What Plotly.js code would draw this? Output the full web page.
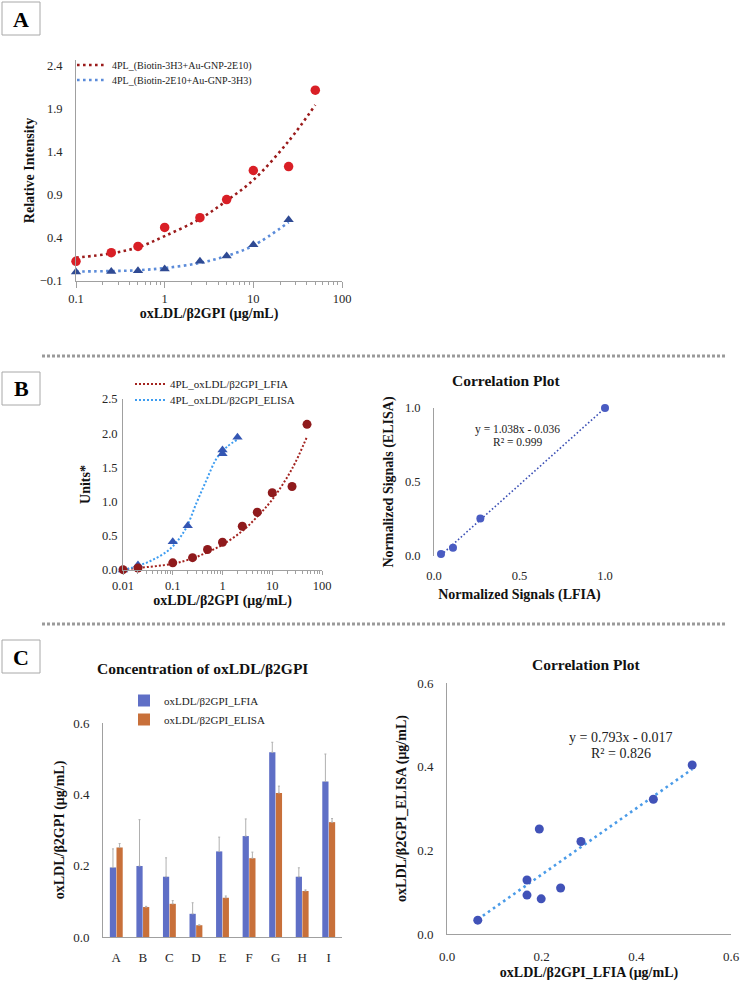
<!DOCTYPE html>
<html>
<head>
<meta charset="utf-8">
<script src="https://cdn.plot.ly/plotly-3.0.1.min.js"></script>
<style>html,body{margin:0;padding:0;background:#fff}#chart{width:740px;height:981px}</style>
</head>
<body>
<div id="chart"></div>
<script>
// ---------- Panel A data ----------
const aConcRed = [0.1, 0.25, 0.5, 1, 2.5, 5, 10, 25, 50];
const aRed = [0.128, 0.228, 0.30, 0.52, 0.634, 0.843, 1.18, 1.225, 2.11];
const aRedFit = [0.17, 0.22, 0.29, 0.42, 0.62, 0.83, 1.07, 1.52, 1.94];
const aConcBlue = [0.1, 0.25, 0.5, 1, 2.5, 5, 10, 25];
const aBlue = [0.005, 0.01, 0.02, 0.04, 0.13, 0.19, 0.32, 0.61];
const aBlueFit = [0.01, 0.015, 0.025, 0.05, 0.11, 0.19, 0.31, 0.58];
const aYTicks = [-0.1, 0.4, 0.9, 1.4, 1.9, 2.4];
const aMinorTicks = [0.2, 0.3, 0.4, 0.5, 0.6, 0.7, 0.8, 0.9, 2, 3, 4, 5, 6, 7, 8, 9, 20, 30, 40, 50, 60, 70, 80, 90];

// ---------- Panel B data ----------
const bConcLFIA = [0.01, 0.02, 0.1, 0.25, 0.5, 1, 2.5, 5, 10, 25, 50];
const bLFIA = [0.005, 0.03, 0.105, 0.18, 0.30, 0.405, 0.64, 0.845, 1.13, 1.22, 2.13];
const bLFIAFit = [0.01, 0.03, 0.09, 0.17, 0.26, 0.37, 0.57, 0.78, 1.03, 1.48, 1.95];
const bConcELISA = [0.01, 0.02, 0.1, 0.2, 1, 1, 2];
const bELISA = [0.0, 0.073, 0.414, 0.648, 1.755, 1.70, 1.94];
const bELISAFitX = [0.01, 0.022, 0.04, 0.076, 0.12, 0.19, 0.3, 0.48, 0.76, 1.22, 1.93];
const bELISAFitY = [0.0, 0.07, 0.15, 0.27, 0.41, 0.63, 0.98, 1.32, 1.63, 1.80, 1.90];
const bMinorTicks = [0.02, 0.03, 0.04, 0.05, 0.06, 0.07, 0.08, 0.09].concat(aMinorTicks);
const normLFIA = [0.041, 0.111, 0.271, 1.0];
const normELISA = [0.014, 0.056, 0.253, 1.0];
const normTrendX = [0.041, 1.0];
const normTrendY = [0.006, 1.0];

// ---------- Panel C data ----------
const samples = ['A', 'B', 'C', 'D', 'E', 'F', 'G', 'H', 'I'];
const cLFIA = [0.195, 0.199, 0.169, 0.065, 0.240, 0.283, 0.518, 0.169, 0.436];
const cLFIAErr = [0.052, 0.130, 0.053, 0.031, 0.040, 0.048, 0.028, 0.025, 0.077];
const cELISA = [0.251, 0.084, 0.093, 0.033, 0.110, 0.221, 0.404, 0.129, 0.322];
const cELISAErr = [0.011, 0.002, 0.009, 0.001, 0.005, 0.017, 0.019, 0.003, 0.010];
const noErr = [0, 0, 0, 0, 0, 0, 0, 0, 0];
const cTrendX = [0.065, 0.518];
const cTrendY = [0.035, 0.394];

// ---------- layout helpers ----------
const W = 740, H = 981;
const fx = p => p / W;
const fy = p => 1 - p / H;
const SERIF = '"Liberation Serif", serif';
const AX = '#a0a0a0';
const tickFont = s => ({family: SERIF, size: s, color: '#262626'});
const titleFont = s => ({family: SERIF, size: s, color: '#111', weight: 'bold'});
const note = (text, x, y, font) => ({text: text, xref: 'paper', yref: 'paper', x: fx(x), y: fy(y),
  xanchor: 'center', yanchor: 'middle', showarrow: false, font: font});
const oneLegend = (x, y, size) => ({x: fx(x), y: fy(y), xanchor: 'left', yanchor: 'middle', bgcolor: 'rgba(0,0,0,0)',
  font: {family: SERIF, size: size, color: '#222'}, itemwidth: 30});

const traces = [
  // Panel A
  {x: aConcRed, y: aRedFit, xaxis: 'x', yaxis: 'y', mode: 'lines', line: {color: '#9b1b1b', width: 2.6, dash: '2.6px,3.4px', shape: 'spline'}, name: '4PL_(Biotin-3H3+Au-GNP-2E10)', legend: 'legend'},
  {x: aConcBlue, y: aBlueFit, xaxis: 'x', yaxis: 'y', mode: 'lines', line: {color: '#5b8bd9', width: 2.6, dash: '2.6px,3.4px', shape: 'spline'}, name: '4PL_(Biotin-2E10+Au-GNP-3H3)', legend: 'legend4'},
  {x: aConcRed, y: aRed, xaxis: 'x', yaxis: 'y', mode: 'markers', marker: {color: '#d91f26', size: 9.5}, showlegend: false, cliponaxis: false},
  {x: aConcBlue, y: aBlue, xaxis: 'x', yaxis: 'y', mode: 'markers', marker: {color: '#2f4a93', size: 9, symbol: 'triangle-up'}, showlegend: false, cliponaxis: false},
  // Panel B left
  {x: bConcLFIA, y: bLFIAFit, xaxis: 'x2', yaxis: 'y2', mode: 'lines', line: {color: '#a3231f', width: 2, dash: '2px,2px', shape: 'spline'}, name: '4PL_oxLDL/β2GPI_LFIA', legend: 'legend2'},
  {x: bELISAFitX, y: bELISAFitY, xaxis: 'x2', yaxis: 'y2', mode: 'lines', line: {color: '#3d9cf0', width: 2, dash: '2px,2px', shape: 'spline'}, name: '4PL_oxLDL/β2GPI_ELISA', legend: 'legend5'},
  {x: bConcELISA, y: bELISA, xaxis: 'x2', yaxis: 'y2', mode: 'markers', marker: {color: '#3456b3', size: 9, symbol: 'triangle-up'}, showlegend: false, cliponaxis: false},
  {x: bConcLFIA, y: bLFIA, xaxis: 'x2', yaxis: 'y2', mode: 'markers', marker: {color: '#8f1a1c', size: 9}, showlegend: false, cliponaxis: false},
  // Panel B right
  {x: normTrendX, y: normTrendY, xaxis: 'x3', yaxis: 'y3', mode: 'lines', line: {color: '#3a4fb5', width: 1.6, dash: '1.6px,2.2px'}, showlegend: false},
  {x: normLFIA, y: normELISA, xaxis: 'x3', yaxis: 'y3', mode: 'markers', marker: {color: '#4a5cc2', size: 8}, showlegend: false, cliponaxis: false},
  // Panel C left
  {x: samples, y: cLFIA, xaxis: 'x4', yaxis: 'y4', type: 'bar', name: 'oxLDL/β2GPI_LFIA', legend: 'legend3', marker: {color: '#5f6fc6'},
   error_y: {type: 'data', symmetric: false, array: cLFIAErr, arrayminus: noErr, color: '#b0b0b0', thickness: 1, width: 1}},
  {x: samples, y: cELISA, xaxis: 'x4', yaxis: 'y4', type: 'bar', name: 'oxLDL/β2GPI_ELISA', legend: 'legend3', marker: {color: '#c8703a'},
   error_y: {type: 'data', symmetric: false, array: cELISAErr, arrayminus: noErr, color: '#b0b0b0', thickness: 1, width: 1}},
  // Panel C right
  {x: cTrendX, y: cTrendY, xaxis: 'x5', yaxis: 'y5', mode: 'lines', line: {color: '#4a9be8', width: 2.6, dash: '2.6px,3.6px'}, showlegend: false},
  {x: cLFIA, y: cELISA, xaxis: 'x5', yaxis: 'y5', mode: 'markers', marker: {color: '#4152b8', size: 9}, showlegend: false, cliponaxis: false}
];

const baseX = {showgrid: false, zeroline: false, showline: true, linecolor: AX, linewidth: 1, tickcolor: AX};
const baseY = {showgrid: false, zeroline: false, showline: true, linecolor: AX, linewidth: 1, ticks: ''};

const layout = {
  width: W, height: H,
  margin: {l: 0, r: 0, t: 0, b: 0},
  paper_bgcolor: '#fff', plot_bgcolor: 'rgba(0,0,0,0)',
  showlegend: true,
  barmode: 'group', bargap: 0.5, bargroupgap: 0.06,
  font: {family: SERIF, color: '#222'},
  // Panel A
  xaxis: Object.assign({}, baseX, {domain: [fx(76), fx(342)], anchor: 'y', type: 'log', range: [-1, 2],
    tickmode: 'linear', tick0: 0, dtick: 1, ticks: 'outside', ticklen: 6, tickfont: tickFont(12.5),
    minor: {tickmode: 'array', tickvals: aMinorTicks, ticks: 'outside', ticklen: 3, tickcolor: AX, showgrid: false},
    title: {text: 'oxLDL/β2GPI (μg/mL)', font: titleFont(14), standoff: 3}}),
  yaxis: Object.assign({}, baseY, {domain: [fy(281), fy(60)], anchor: 'x', range: [-0.1, 2.46],
    tickvals: aYTicks, tickformat: '.1f', tickfont: tickFont(12.5), ticklabelstandoff: 10,
    title: {text: 'Relative Intensity', font: titleFont(14), standoff: 1}}),
  // Panel B left
  xaxis2: Object.assign({}, baseX, {domain: [fx(123), fx(322)], anchor: 'y2', type: 'log', range: [-2, 2],
    tickmode: 'linear', tick0: 0, dtick: 1, ticks: 'outside', ticklen: 4, tickfont: tickFont(12.5),
    minor: {tickmode: 'array', tickvals: bMinorTicks, ticks: 'outside', ticklen: 3, tickcolor: AX, showgrid: false},
    title: {text: 'oxLDL/β2GPI (μg/mL)', font: titleFont(14), standoff: 2}}),
  yaxis2: Object.assign({}, baseY, {domain: [fy(570), fy(399)], anchor: 'x2', range: [0, 2.5],
    dtick: 0.5, tickformat: '.1f', tickfont: tickFont(12.5), ticklabelstandoff: 2,
    title: {text: 'Units*', font: titleFont(14), standoff: 7}}),
  // Panel B right
  xaxis3: Object.assign({}, baseX, {domain: [fx(434), fx(605)], anchor: 'y3', range: [0, 1], showline: false,
    tickvals: [0, 0.5, 1], tickformat: '.1f', ticks: '', tickfont: tickFont(12.5), ticklabelstandoff: 10,
    title: {text: 'Normalized Signals (LFIA)', font: titleFont(14), standoff: 7}}),
  yaxis3: Object.assign({}, baseY, {domain: [fy(556), fy(408)], anchor: 'x3', range: [0, 1],
    tickvals: [0, 0.5, 1], tickformat: '.1f', tickfont: tickFont(12.5), ticklabelstandoff: 10,
    title: {text: 'Normalized Signals (ELISA)', font: titleFont(14), standoff: 7}}),
  // Panel C left
  xaxis4: Object.assign({}, baseX, {domain: [fx(103), fx(342)], anchor: 'y4', type: 'category',
    ticks: '', tickfont: tickFont(13), ticklabelstandoff: 8}),
  yaxis4: Object.assign({}, baseY, {domain: [fy(937), fy(723)], anchor: 'x4', range: [0, 0.6],
    tickvals: [0, 0.2, 0.4, 0.6], tickformat: '.1f', tickfont: tickFont(13), ticklabelstandoff: 10,
    title: {text: 'oxLDL/β2GPI (μg/mL)', font: titleFont(14), standoff: 5}}),
  // Panel C right
  xaxis5: Object.assign({}, baseX, {domain: [fx(447), fx(731)], anchor: 'y5', range: [0, 0.6],
    tickvals: [0, 0.2, 0.4, 0.6], tickformat: '.1f', ticks: '', tickfont: tickFont(13), ticklabelstandoff: 10,
    title: {text: 'oxLDL/β2GPI_LFIA (μg/mL)', font: titleFont(14), standoff: 7}}),
  yaxis5: Object.assign({}, baseY, {domain: [fy(934), fy(683)], anchor: 'x5', range: [0, 0.6],
    tickvals: [0, 0.2, 0.4, 0.6], tickformat: '.1f', tickfont: tickFont(13), ticklabelstandoff: 10,
    title: {text: 'oxLDL/β2GPI_ELISA (μg/mL)', font: titleFont(14), standoff: 7}}),
  legend: oneLegend(72, 65, 10),
  legend4: oneLegend(72, 80, 10),
  legend2: oneLegend(130, 384, 11),
  legend5: oneLegend(130, 400, 11),
  legend3: {x: fx(124), y: fy(686), xanchor: 'left', yanchor: 'top', bgcolor: 'rgba(0,0,0,0)',
    font: {family: SERIF, size: 11, color: '#222'}, itemwidth: 30},
  shapes: [
    {type: 'rect', xref: 'paper', yref: 'paper', x0: fx(2), x1: fx(40), y0: fy(35), y1: fy(2), line: {color: '#a8a8a8', width: 1}},
    {type: 'rect', xref: 'paper', yref: 'paper', x0: fx(2), x1: fx(40), y0: fy(405), y1: fy(372), line: {color: '#a8a8a8', width: 1}},
    {type: 'rect', xref: 'paper', yref: 'paper', x0: fx(2), x1: fx(40), y0: fy(673), y1: fy(640), line: {color: '#a8a8a8', width: 1}},
    {type: 'line', xref: 'paper', yref: 'paper', x0: fx(42), x1: fx(727), y0: fy(356), y1: fy(356), line: {color: '#9a9a9a', width: 3, dash: '3px,2px'}},
    {type: 'line', xref: 'paper', yref: 'paper', x0: fx(42), x1: fx(727), y0: fy(624), y1: fy(624), line: {color: '#9a9a9a', width: 3, dash: '3px,2px'}}
  ],
  annotations: [
    note('<b>A</b>', 21, 19, {family: SERIF, size: 22, color: '#000'}),
    note('<b>B</b>', 21, 389, {family: SERIF, size: 22, color: '#000'}),
    note('<b>C</b>', 21, 657, {family: SERIF, size: 22, color: '#000'}),
    note('<b>Correlation Plot</b>', 506, 380, titleFont(15.5)),
    note('<b>Concentration of oxLDL/β2GPI</b>', 203, 668, titleFont(15.5)),
    note('<b>Correlation Plot</b>', 586, 664, titleFont(15.5)),
    note('y = 1.038x - 0.036', 517, 430, {family: SERIF, size: 11.5, color: '#222'}),
    note('R² = 0.999', 517, 442, {family: SERIF, size: 11.5, color: '#222'}),
    note('y = 0.793x - 0.017', 621, 737, {family: SERIF, size: 14, color: '#222'}),
    note('R² = 0.826', 621, 753, {family: SERIF, size: 14, color: '#222'})
  ]
};

Plotly.newPlot('chart', traces, layout, {displayModeBar: false, staticPlot: true});
</script>
</body>
</html>
